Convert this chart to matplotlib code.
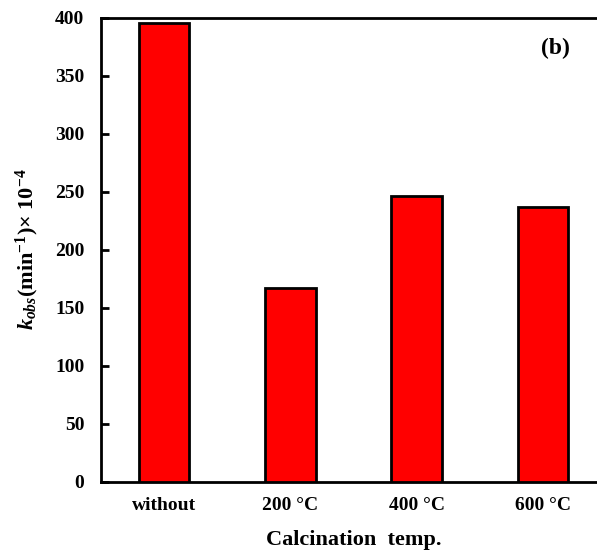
import matplotlib
matplotlib.use("Agg")
import matplotlib.pyplot as plt

categories = ["without", "200 °C", "400 °C", "600 °C"]
k_obs = [395, 167, 246, 237]
y_ticks = [0, 50, 100, 150, 200, 250, 300, 350, 400]

plt.rcParams["font.family"] = ["Liberation Serif", "DejaVu Serif"]
plt.rcParams["font.weight"] = "bold"
plt.rcParams["mathtext.fontset"] = "custom"
plt.rcParams["mathtext.rm"] = "Liberation Serif:bold"
plt.rcParams["mathtext.it"] = "Liberation Serif:italic:bold"
plt.rcParams["mathtext.bf"] = "Liberation Serif:bold"

fig = plt.figure(figsize=(5.97, 5.51), dpi=100)
ax = fig.add_axes([101 / 597, 69.5 / 551, 505 / 597, 464 / 551])

x = range(len(categories))
ax.bar(x, k_obs, width=0.4, color="#ff0000", edgecolor="black", linewidth=2, zorder=3)

ax.set_xlim(-0.5, 3.5)
ax.set_ylim(0, 400)
ax.set_yticks(y_ticks)
ax.set_xticks(list(x))
ax.set_xticklabels(categories)

ax.tick_params(axis="y", direction="in", length=6, width=2, labelsize=14, pad=12)
ax.tick_params(axis="x", length=0, labelsize=14, pad=11)
for s in ax.spines.values():
    s.set_linewidth(2)

ax.set_xlabel("Calcination  temp.", fontsize=16, fontweight="bold", labelpad=12)
ax.set_ylabel(r"$\mathit{k}_{\mathit{obs}}$(min$^{-1}$)× 10$^{-4}$", fontsize=16,
              fontweight="bold", labelpad=10)

fig.text(555 / 597, 1 - 48 / 551, "(b)", fontsize=17, fontweight="bold",
         ha="center", va="center")

fig.savefig("out.png", dpi=100)
